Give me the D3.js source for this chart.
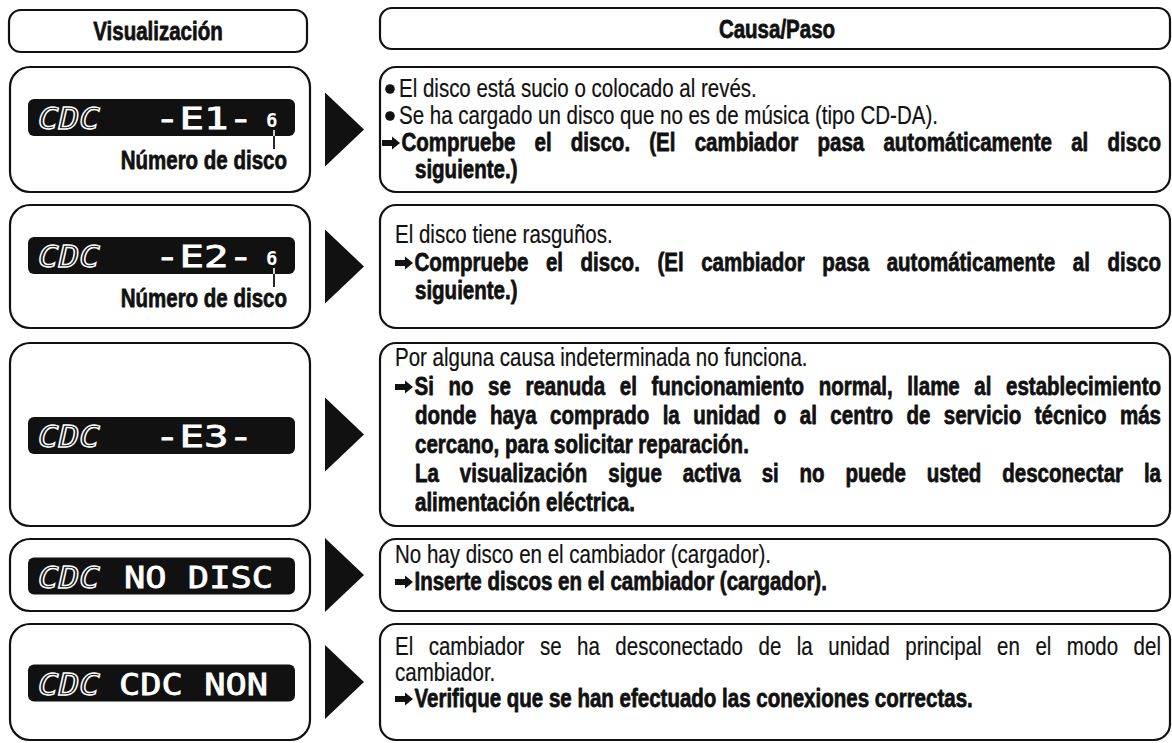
<!DOCTYPE html>
<html><head><meta charset="utf-8">
<script src="https://cdn.jsdelivr.net/npm/d3@7"></script>
<style>html,body{margin:0;padding:0;background:#fff;}svg{display:block}</style>
</head><body>
<svg id="c" width="1172" height="743"></svg>
<script>
// ---------- content ----------
const headerLeft = "Visualización";
const headerRight = "Causa/Paso";
const lcdPrefix = ["CDC", "CDC", "CDC", "CDC", "CDC"];
const lcdMessage = ["-E1-", "-E2-", "-E3-", "NO DISC", "CDC NON"];
const discNumber = ["6", "6", "", "", ""];
const discLabel = ["Número de disco", "Número de disco", "", "", ""];
// k: r = regular, b = bold ; mark: bullet | arrow | indent | none ; j = justified
const cause1 = [
  {t: "El disco está sucio o colocado al revés.", k: "r", mark: "bullet"},
  {t: "Se ha cargado un disco que no es de música (tipo CD-DA).", k: "r", mark: "bullet"},
  {t: "Compruebe el disco. (El cambiador pasa automáticamente al disco", k: "b", mark: "arrow", j: true},
  {t: "siguiente.)", k: "b", mark: "indent"}
];
const cause2 = [
  {t: "El disco tiene rasguños.", k: "r", mark: "none"},
  {t: "Compruebe el disco. (El cambiador pasa automáticamente al disco", k: "b", mark: "arrow", j: true},
  {t: "siguiente.)", k: "b", mark: "indent"}
];
const cause3 = [
  {t: "Por alguna causa indeterminada no funciona.", k: "r", mark: "none"},
  {t: "Si no se reanuda el funcionamiento normal, llame al establecimiento", k: "b", mark: "arrow", j: true},
  {t: "donde haya comprado la unidad o al centro de servicio técnico más", k: "b", mark: "indent", j: true},
  {t: "cercano, para solicitar reparación.", k: "b", mark: "indent"},
  {t: "La visualización sigue activa si no puede usted desconectar la", k: "b", mark: "indent", j: true},
  {t: "alimentación eléctrica.", k: "b", mark: "indent"}
];
const cause4 = [
  {t: "No hay disco en el cambiador (cargador).", k: "r", mark: "none"},
  {t: "Inserte discos en el cambiador (cargador).", k: "b", mark: "arrow"}
];
const cause5 = [
  {t: "El cambiador se ha desconectado de la unidad principal en el modo del", k: "r", mark: "none", j: true},
  {t: "cambiador.", k: "r", mark: "none"},
  {t: "Verifique que se han efectuado las conexiones correctas.", k: "b", mark: "arrow"}
];
const causes = [cause1, cause2, cause3, cause4, cause5];

// ---------- layout ----------
const L = {
  leftX0: 9, leftX1: 310, rightX0: 380, rightX1: 1170,
  headTop: 10, headBot: 51,
  rowTop: [67, 205, 343, 539, 624],
  rowBot: [192, 328, 526, 611, 740],
  firstBase: [30, 38, 23, 24, 31],
  lineGap: [27, 28, 29, 27, 26],
  markX: [382, 395, 395, 395, 395],
  indentX: 415, textRight: 1161,
  lcdX0: 28, lcdX1: 295, lcdH: 37,
  triX0: 325, triX1: 364, triH: 74
};
const fontSize = 25;
function hasFont(f) {
  const c = document.createElement('canvas').getContext('2d');
  const s = 'mmmmmmmmmmlli WW abc';
  c.font = '40px monospace'; const a = c.measureText(s).width;
  c.font = '40px "' + f + '", monospace'; const b = c.measureText(s).width;
  return Math.abs(a - b) > 0.5;
}
const narrow = hasFont("Liberation Sans Narrow");
const fam = narrow ? '"Liberation Sans Narrow", "Liberation Sans", Arial, sans-serif' : '"Liberation Sans", Arial, sans-serif';
const sx = narrow ? 1 : 0.82;

const svg = d3.select("#c");
const ink = "#111";

const meas = svg.append("text").attr("font-family", fam).attr("font-size", fontSize).attr("x", -1000).attr("y", -1000);
function width(str, bold) {
  meas.attr("font-weight", bold ? "bold" : "normal").text(str);
  return meas.node().getComputedTextLength();
}

function textLine(x, y, str, bold, justifyTo, anchor) {
  const g = svg.append("g").attr("transform", `translate(${x},${y}) scale(${sx},1)`);
  const t = g.append("text").attr("font-family", fam).attr("font-size", fontSize)
    .attr("font-weight", bold ? "bold" : "normal").attr("fill", ink)
    .attr("stroke", ink).attr("stroke-width", bold ? 0.75 : 0.2).attr("stroke-linejoin", "round");
  if (anchor) t.attr("text-anchor", anchor);
  if (justifyTo) {
    const words = str.split(" ");
    const ws = words.map(w => width(w, bold));
    const total = (justifyTo - x) / sx;
    const gap = (total - d3.sum(ws)) / (words.length - 1);
    let cx = 0;
    words.forEach((w, i) => {
      t.append("tspan").attr("x", cx).attr("y", 0).text(w);
      cx += ws[i] + gap;
    });
  } else {
    t.attr("x", 0).attr("y", 0).text(str);
  }
  return t;
}

function roundBox(x0, y0, x1, y1, r) {
  svg.append("rect").attr("x", x0).attr("y", y0).attr("width", x1 - x0).attr("height", y1 - y0)
    .attr("rx", r).attr("ry", r).attr("fill", "none").attr("stroke", ink).attr("stroke-width", 2.2);
}

// headers
roundBox(L.leftX0, L.headTop, 307, L.headBot + 1, 12);
roundBox(L.rightX0, L.headTop - 2, L.rightX1, L.headBot - 2, 12);
textLine(158, 40, headerLeft, true, null, "middle");
textLine(777, 38, headerRight, true, null, "middle");

const y = d3.scaleLinear().domain([0, 743]).range([0, 743]);
const lcdFont = '"DejaVu Sans Mono", monospace';

causes.forEach((lines, i) => {
  const top = y(L.rowTop[i]), bot = y(L.rowBot[i]);
  const cy = (top + bot) / 2;
  roundBox(L.leftX0 + 1, top, L.leftX1, bot, 20);
  roundBox(L.rightX0, top, L.rightX1, bot, 16);
  svg.append("path").attr("d", `M${L.triX0},${cy - L.triH / 2}L${L.triX1},${cy}L${L.triX0},${cy + L.triH / 2}Z`).attr("fill", ink);
  // LCD
  const lcdTop = discLabel[i] ? top + 32 : cy - L.lcdH / 2 + 1;
  svg.append("rect").attr("x", L.lcdX0).attr("y", lcdTop).attr("width", L.lcdX1 - L.lcdX0).attr("height", L.lcdH)
    .attr("rx", 6).attr("fill", ink);
  const base = lcdTop + 30;
  svg.append("text").attr("x", 38).attr("y", base).attr("font-family", lcdFont)
    .attr("font-size", 31).attr("font-style", "italic").attr("fill", "none").attr("stroke", "#fff").attr("stroke-width", 1.4)
    .attr("textLength", 62).attr("lengthAdjust", "spacingAndGlyphs").text(lcdPrefix[i]);
  const isShort = lcdMessage[i].length <= 4;
  svg.append("text").attr("x", isShort ? 155 : (i === 3 ? 124 : 119)).attr("y", base)
    .attr("font-family", lcdFont).attr("font-size", 31)
    .attr("fill", "#fff").attr("stroke", "#fff").attr("stroke-width", 0.8)
    .attr("textLength", isShort ? 98 : 149).attr("lengthAdjust", "spacingAndGlyphs").text(lcdMessage[i]);
  if (discNumber[i]) {
    svg.append("text").attr("x", 266).attr("y", base - 2).attr("font-family", lcdFont)
      .attr("font-size", 19).attr("font-weight", "bold").attr("fill", "#fff").text(discNumber[i]);
    svg.append("line").attr("x1", 274).attr("x2", 274).attr("y1", lcdTop + 31).attr("y2", lcdTop + L.lcdH)
      .attr("stroke", "#fff").attr("stroke-width", 1.6);
    const lb = top + 102;
    svg.append("line").attr("x1", 274).attr("x2", 274).attr("y1", lcdTop + L.lcdH).attr("y2", lb - 20)
      .attr("stroke", ink).attr("stroke-width", 1.8);
    textLine(287, lb, discLabel[i], true, null, "end");
  }
  lines.forEach((ln, j) => {
    const by = top + L.firstBase[i] + j * L.lineGap[i];
    const bold = ln.k === "b";
    let tx;
    const mx = L.markX[i];
    if (ln.mark === "bullet") {
      svg.append("circle").attr("cx", mx + 8).attr("cy", by - 8).attr("r", 4.8).attr("fill", ink);
      tx = mx + 17;
    } else if (ln.mark === "arrow") {
      const ay = by - 8;
      svg.append("path").attr("d",
        `M${mx},${ay - 3}L${mx + 10},${ay - 3}L${mx + 10},${ay - 6.5}L${mx + 18},${ay}L${mx + 10},${ay + 6.5}L${mx + 10},${ay + 3}L${mx},${ay + 3}Z`)
        .attr("fill", ink);
      tx = mx + 19.5;
    } else if (ln.mark === "indent") {
      tx = L.indentX;
    } else {
      tx = mx;
    }
    textLine(tx, by, ln.t, bold, ln.j ? L.textRight : null);
  });
});
meas.remove();
</script>
</body></html>
